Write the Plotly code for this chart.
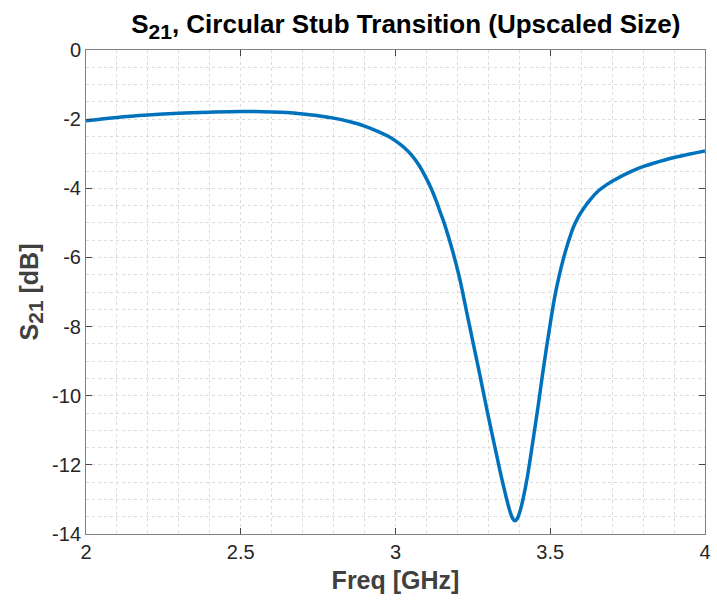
import plotly.graph_objects as go

freq_ghz = [2.00, 2.10, 2.20, 2.30, 2.40, 2.50, 2.60, 2.65, 2.70, 2.75, 2.80,
            2.85, 2.90, 2.95, 2.975, 3.00, 3.025, 3.05, 3.075, 3.10, 3.115, 3.13, 3.145,
            3.16, 3.185, 3.207, 3.23, 3.252,
            3.276, 3.298, 3.322, 3.342, 3.358, 3.370, 3.379, 3.386, 3.393, 3.402,
            3.413, 3.426, 3.445, 3.46, 3.474, 3.488, 3.502, 3.515, 3.528, 3.543,
            3.556, 3.565, 3.575, 3.59, 3.605, 3.63, 3.655, 3.68, 3.703, 3.762, 3.804,
            3.87, 3.94, 4.00]
s21_db = [-2.05, -1.95, -1.88, -1.83, -1.80, -1.78, -1.79, -1.81, -1.85, -1.90, -1.97,
          -2.07, -2.20, -2.38, -2.49, -2.63, -2.80, -3.02, -3.32, -3.72, -4.00, -4.33, -4.70,
          -5.08, -5.83, -6.60, -7.58, -8.52,
          -9.55, -10.52, -11.52, -12.35, -12.95, -13.35, -13.56, -13.62, -13.56, -13.35,
          -12.95, -12.35, -11.25, -10.35, -9.45, -8.60, -7.80, -7.12, -6.56, -6.02,
          -5.62, -5.37, -5.12, -4.84, -4.62, -4.32, -4.08, -3.91, -3.78, -3.51, -3.36,
          -3.18, -3.03, -2.92]

x_ticks = [2, 2.5, 3, 3.5, 4]
x_tick_labels = ["2", "2.5", "3", "3.5", "4"]
y_ticks = [0, -2, -4, -6, -8, -10, -12, -14]
y_tick_labels = ["0", "-2", "-4", "-6", "-8", "-10", "-12", "-14"]

FONT = "Liberation Sans, Arial, Helvetica, sans-serif"
TXT = "#262626"
GRID = "#dcdcdc"
AXIS = "#808080"

fig = go.Figure()
fig.add_trace(go.Scatter(
    x=freq_ghz, y=s21_db, mode="lines",
    line=dict(color="#0072BD", width=3.5, shape="spline", smoothing=1.0),
    showlegend=False, hoverinfo="skip",
))

fig.update_layout(
    width=717, height=603,
    margin=dict(l=86, r=6, t=50, b=69),
    paper_bgcolor="white", plot_bgcolor="white",
    font=dict(family=FONT, size=20, color=TXT),
    title=dict(
        text="<b>S<sub><span style='font-size:21px'>21</span></sub>, Circular Stub Transition (Upscaled Size)</b>",
        font=dict(family=FONT, size=26, color="#000000"),
        x=0.566, xanchor="center", xref="container",
        y=1 - 24 / 603, yanchor="middle", yref="container",
    ),
)

fig.update_xaxes(
    range=[2, 4], tickvals=x_ticks, ticktext=x_tick_labels,
    showline=True, linecolor=AXIS, linewidth=1, mirror="ticks",
    ticks="inside", ticklen=6, tickcolor="#444444", tickwidth=1,
    showgrid=True, gridcolor=GRID, griddash="dot", gridwidth=1,
    minor=dict(dtick=0.1, showgrid=True, gridcolor=GRID, griddash="dot", gridwidth=1, ticks=""),
    zeroline=False,
    tickfont=dict(size=20, color=TXT),
    title=dict(text="<b>Freq [GHz]</b>", font=dict(size=25, color="#404040"), standoff=9),
)
fig.update_yaxes(
    range=[-14, 0], tickvals=y_ticks, ticktext=y_tick_labels,
    showline=True, linecolor=AXIS, linewidth=1, mirror="ticks",
    ticks="inside", ticklen=6, tickcolor="#444444", tickwidth=1,
    showgrid=True, gridcolor=GRID, griddash="dot", gridwidth=1,
    minor=dict(dtick=0.5, showgrid=True, gridcolor=GRID, griddash="dot", gridwidth=1, ticks=""),
    zeroline=False,
    tickfont=dict(size=20, color=TXT),
    title=dict(text="<b>S<sub><span style='font-size:21px'>21</span></sub> [dB]</b>",
               font=dict(size=25, color="#404040"), standoff=6),
)

fig.write_html("out.html")
